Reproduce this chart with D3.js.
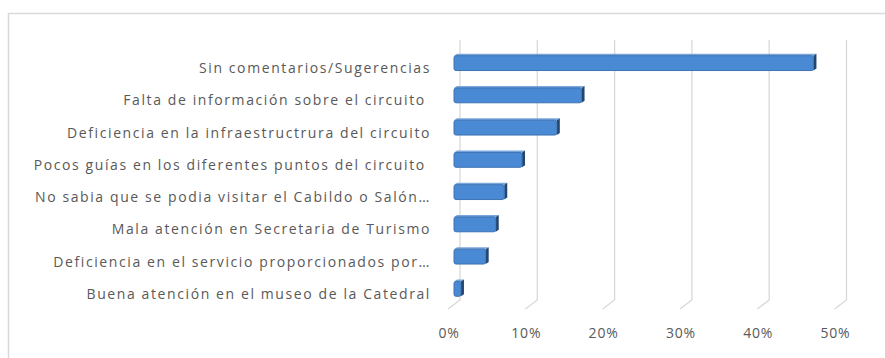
<!DOCTYPE html>
<html><head><meta charset="utf-8">
<script src="https://cdn.jsdelivr.net/npm/d3@7/dist/d3.min.js"></script>
<style>
html,body{margin:0;padding:0;background:#fff;}
svg{display:block;}
</style></head>
<body><svg id="c" width="885" height="358"></svg>
<script>
const categories = [
  "Sin comentarios/Sugerencias",
  "Falta de información sobre el circuito ",
  "Deficiencia en la infraestructrura del circuito",
  "Pocos guías en los diferentes puntos del circuito ",
  "No sabia que se podia visitar el Cabildo o Salón…",
  "Mala atención en Secretaria de Turismo",
  "Deficiencia en el servicio proporcionados por…",
  "Buena atención en el museo de la Catedral"
];
const values = [0.465, 0.165, 0.133, 0.088, 0.065, 0.054, 0.041, 0.009];
const tickValues = [0, 0.1, 0.2, 0.3, 0.4, 0.5];
const tickLabels = ["0%", "10%", "20%", "30%", "40%", "50%"];

const svg = d3.select("#c");
const font = "'Open Sans', sans-serif";

// chart frame
svg.append("rect").attr("x", 8.5).attr("y", 13.5).attr("width", 900).attr("height", 400)
  .attr("fill", "#fff").attr("stroke", "#d9d9d9").attr("stroke-width", 1.5);

const x = d3.scaleLinear().domain([0, 0.5]).range([454, 840.5]);
const y = d3.scaleBand().domain(categories).range([47, 305]).paddingInner(0.54).paddingOuter(0.27);

const dx = 6;
const wallTop = 40, wallBottom = 300;

const g = svg.append("g");
tickValues.forEach(v => {
  const xb = x(v) + dx;
  g.append("line").attr("x1", xb).attr("x2", xb).attr("y1", wallTop).attr("y2", wallBottom)
    .attr("stroke", "#d9d9d9").attr("stroke-width", 1.3);
  g.append("line").attr("x1", xb).attr("x2", xb - 12).attr("y1", wallBottom).attr("y2", wallBottom + 9)
    .attr("stroke", "#d9d9d9").attr("stroke-width", 1.3);
});

const bars = svg.append("g");
categories.forEach((c, i) => {
  const v = values[i];
  const y0 = y(c), h = y.bandwidth();
  const x0 = x(0), x1 = x(v);
  bars.append("path")
    .attr("d", `M${x0},${y0} L${x0 + 3},${y0 - 2} L${x1 + 3},${y0 - 2} L${x1},${y0} Z`)
    .attr("fill", "#7aa7dc");
  bars.append("path")
    .attr("d", `M${x1},${y0} L${x1 + 3},${y0 - 2} L${x1 + 3},${y0 + h - 2} L${x1},${y0 + h} Z`)
    .attr("fill", "#23466f");
  bars.append("rect").attr("x", x0).attr("y", y0).attr("width", Math.max(0, x1 - x0)).attr("height", h)
    .attr("rx", 2)
    .attr("fill", "#4a89d4").attr("stroke", "#3d72b3").attr("stroke-width", 1);
});

svg.append("g").selectAll("text").data(categories).join("text")
  .attr("x", 431).attr("y", d => y(d) + y.bandwidth() / 2 + 10)
  .attr("text-anchor", "end")
  .attr("font-family", font).attr("font-size", 14).attr("fill", "#595959")
  .style("letter-spacing", "1.6px")
  .style("white-space", "pre")
  .text(d => d);

svg.append("g").selectAll("text").data(tickValues).join("text")
  .attr("x", (d) => x(d) - 5).attr("y", 338)
  .attr("text-anchor", "middle")
  .attr("font-family", font).attr("font-size", 14).attr("fill", "#595959")
  .style("letter-spacing", "0.8px")
  .text((d, i) => tickLabels[i]);
</script></body></html>
